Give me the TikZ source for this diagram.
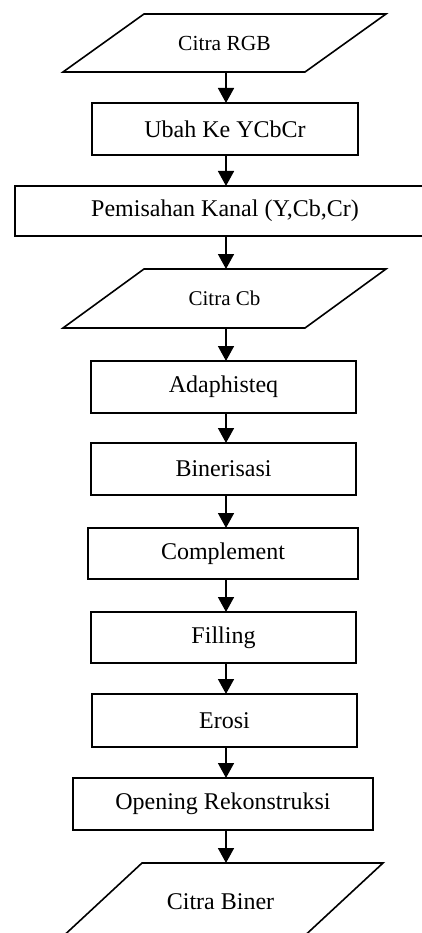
\documentclass[tikz,border=0pt]{standalone}
\usepackage{fontspec}
\setmainfont{Liberation Serif}
\usetikzlibrary{arrows.meta}

\tikzset{
  procbox/.style={draw, rectangle, line width=1.6pt, outer sep=0pt, inner sep=0pt,
    font=\fontsize{24}{28}\selectfont},
  % data box: the node is the unslanted body, its outline is drawn separately
  iobox/.style={rectangle, outer sep=0pt, inner sep=0pt,
    font=\fontsize{24}{28}\selectfont},
  ioline/.style={line width=1.6pt},
  flow/.style={line width=1.6pt, -{Triangle[length=15pt,width=16pt]}}
}

\begin{document}
\begin{tikzpicture}[x=1pt,y=-1pt]
  \useasboundingbox (0,0) rectangle (422,933);
  \clip (0,0) rectangle (422,933);

  % column along which the flow arrows run
  \coordinate (col) at (226,0);

  \node[iobox, minimum width=242pt, minimum height=58pt,
        font=\fontsize{21.5}{25}\selectfont] (rgb) at (224.5,43) {Citra RGB};
  \node[procbox, minimum width=266pt, minimum height=52pt] (ycbcr) at (225,129) {Ubah Ke YCbCr};
  \node[procbox, minimum width=420pt, minimum height=50pt] (split) at (225,211) {Pemisahan Kanal (Y,Cb,Cr)};
  \node[iobox, minimum width=242pt, minimum height=59pt,
        font=\fontsize{21}{25}\selectfont] (cb) at (224.5,298.5) {Citra Cb};
  \node[procbox, minimum width=265pt, minimum height=52pt] (adapt) at (223.5,387) {Adaphisteq};
  \node[procbox, minimum width=265pt, minimum height=52pt] (bin) at (223.5,469) {Binerisasi};
  \node[procbox, minimum width=270pt, minimum height=51pt] (comp) at (223,553.5) {Complement};
  \node[procbox, minimum width=265pt, minimum height=51pt] (fill) at (223.5,637.5) {Filling};
  \node[procbox, minimum width=265pt, minimum height=53pt] (ero) at (224.5,720.5) {Erosi};
  \node[procbox, minimum width=300pt, minimum height=52pt] (open) at (223,804) {Opening Rekonstruksi};
  \node[iobox, minimum width=241pt, minimum height=78pt] (out) at (220.5,902) {Citra Biner};

  % parallelogram outlines of the data boxes
  \draw[ioline] ([xshift=40.5pt]rgb.north west) -- ([xshift=40.5pt]rgb.north east)
    -- ([xshift=-40.5pt]rgb.south east) -- ([xshift=-40.5pt]rgb.south west) -- cycle;
  \draw[ioline] ([xshift=40.5pt]cb.north west) -- ([xshift=40.5pt]cb.north east)
    -- ([xshift=-40.5pt]cb.south east) -- ([xshift=-40.5pt]cb.south west) -- cycle;
  \draw[ioline] ([xshift=42pt]out.north west) -- ([xshift=42pt]out.north east)
    -- ([xshift=-42pt]out.south east) -- ([xshift=-42pt]out.south west) -- cycle;

  \draw[flow] (rgb.south -| col) -- (ycbcr.north -| col);
  \draw[flow] (ycbcr.south -| col) -- (split.north -| col);
  \draw[flow] (split.south -| col) -- (cb.north -| col);
  \draw[flow] (cb.south -| col) -- (adapt.north -| col);
  \draw[flow] (adapt.south -| col) -- (bin.north -| col);
  \draw[flow] (bin.south -| col) -- (comp.north -| col);
  \draw[flow] (comp.south -| col) -- (fill.north -| col);
  \draw[flow] (fill.south -| col) -- (ero.north -| col);
  \draw[flow] (ero.south -| col) -- (open.north -| col);
  \draw[flow] (open.south -| col) -- (out.north -| col);
\end{tikzpicture}
\end{document}
